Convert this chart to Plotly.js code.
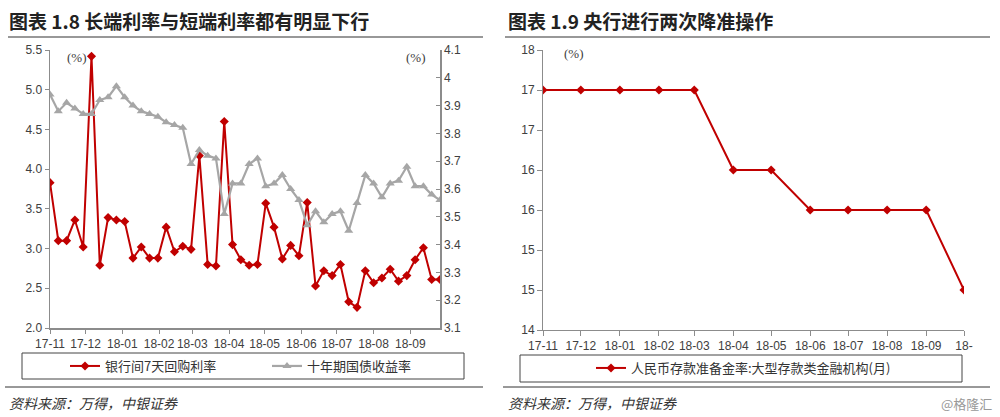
<!DOCTYPE html>
<html>
<head>
<meta charset="utf-8">
<script src="https://cdn.plot.ly/plotly-3.0.1.min.js"></script>
<style>html,body{margin:0;padding:0;background:#fff;}#chart{width:1000px;height:417px;}</style>
</head>
<body>
<div id="chart"></div>
<script>
// ---- Left chart data (weekly) ----
const weekDates = [
  "2017-11-01","2017-11-08","2017-11-15","2017-11-22","2017-11-29","2017-12-06","2017-12-13","2017-12-20",
  "2017-12-27","2018-01-03","2018-01-10","2018-01-17","2018-01-24","2018-01-31","2018-02-07","2018-02-14",
  "2018-02-21","2018-02-28","2018-03-07","2018-03-14","2018-03-21","2018-03-28","2018-04-04","2018-04-11",
  "2018-04-18","2018-04-25","2018-05-02","2018-05-09","2018-05-16","2018-05-23","2018-05-30","2018-06-06",
  "2018-06-13","2018-06-20","2018-06-27","2018-07-04","2018-07-11","2018-07-18","2018-07-25","2018-08-01",
  "2018-08-08","2018-08-15","2018-08-22","2018-08-29","2018-09-05","2018-09-12","2018-09-19","2018-09-26"
];
const repo7d = [
  3.83,3.10,3.10,3.36,3.02,5.42,2.79,3.39,
  3.36,3.34,2.88,3.02,2.88,2.88,3.27,2.96,
  3.03,2.99,4.17,2.80,2.78,4.60,3.05,2.86,
  2.79,2.80,3.57,3.27,2.87,3.04,2.91,3.58,
  2.53,2.72,2.66,2.80,2.33,2.26,2.72,2.57,
  2.63,2.74,2.59,2.66,2.86,3.01,2.61,2.61
];
const bond10y = [
  3.94,3.88,3.91,3.89,3.87,3.87,3.92,3.93,
  3.97,3.93,3.90,3.88,3.87,3.86,3.84,3.83,
  3.82,3.69,3.74,3.72,3.71,3.51,3.62,3.62,
  3.69,3.71,3.61,3.62,3.65,3.60,3.56,3.47,
  3.52,3.48,3.51,3.52,3.45,3.55,3.65,3.62,
  3.57,3.62,3.63,3.68,3.61,3.61,3.58,3.56
];
const leftTickVals = ["2017-11-01","2017-12-01","2018-01-01","2018-02-01","2018-03-01","2018-04-01","2018-05-01","2018-06-01","2018-07-01","2018-08-01","2018-09-01"];
const leftTickText = ["17-11","17-12","18-01","18-02","18-03","18-04","18-05","18-06","18-07","18-08","18-09"];

// ---- Right chart data (monthly) ----
const monthDates = ["2017-11-01","2017-12-01","2018-01-01","2018-02-01","2018-03-01","2018-04-01","2018-05-01","2018-06-01","2018-07-01","2018-08-01","2018-09-01","2018-10-01"];
const rrrLarge = [17,17,17,17,17,16,16,15.5,15.5,15.5,15.5,14.5];
const rightTickText = ["17-11","17-12","18-01","18-02","18-03","18-04","18-05","18-06","18-07","18-08","18-09","18-"];
const rightYTicks = [14,14.5,15,15.5,16,16.5,17,17.5];

const RED = "#C00000", GREY = "#A6A6A6";
const CJK = "'Noto Sans CJK SC', sans-serif";
const SANS = "'Liberation Sans', Arial, sans-serif";
const tickFont = {family: SANS, size: 12, color: "#404040"};

const H = 417, W = 1000;
const py = v => (H - v) / H; // pixel y -> paper
const px = v => v / W;

const traces = [
  {x: weekDates, y: repo7d, name: "银行间7天回购利率", type: "scatter", mode: "lines+markers",
   line: {color: RED, width: 2}, marker: {symbol: "diamond", size: 7, color: RED},
   xaxis: "x", yaxis: "y", legend: "legend"},
  {x: weekDates, y: bond10y, name: "十年期国债收益率", type: "scatter", mode: "lines+markers",
   line: {color: GREY, width: 2.2}, marker: {symbol: "triangle-up", size: 8, color: GREY},
   xaxis: "x", yaxis: "y2", legend: "legend"},
  {x: monthDates, y: rrrLarge, name: "人民币存款准备金率:大型存款类金融机构(月)", type: "scatter", mode: "lines+markers",
   line: {color: RED, width: 2}, marker: {symbol: "diamond", size: 7, color: RED},
   xaxis: "x3", yaxis: "y3", legend: "legend2"}
];

const layout = {
  width: W, height: H,
  margin: {l: 0, r: 0, t: 0, b: 0},
  paper_bgcolor: "#fff", plot_bgcolor: "rgba(0,0,0,0)",
  font: {family: SANS, color: "#404040"},
  xaxis: {domain: [px(50), px(440)], anchor: "y", type: "date",
          range: ["2017-11-01", "2018-09-26"], tickvals: leftTickVals, ticktext: leftTickText,
          showgrid: false, zeroline: false, showline: true, linecolor: "#8c8c8c", linewidth: 1.5,
          ticks: "outside", ticklen: 4, tickcolor: "#8c8c8c", tickfont: tickFont},
  yaxis: {domain: [py(328), py(50)], anchor: "x", range: [2, 5.5], dtick: 0.5, tick0: 2, tickformat: ".1f",
          showgrid: false, zeroline: false, showline: true, linecolor: "#8c8c8c", linewidth: 1.5,
          ticks: "outside", ticklen: 4, tickcolor: "#8c8c8c", tickfont: tickFont},
  yaxis2: {overlaying: "y", side: "right", anchor: "x", range: [3.1, 4.1], dtick: 0.1, tick0: 3.1,
          showgrid: false, zeroline: false, showline: true, linecolor: "#8c8c8c", linewidth: 1.5,
          ticks: "inside", ticklen: 4, tickcolor: "#8c8c8c", tickfont: tickFont},
  xaxis3: {domain: [px(543), px(964)], anchor: "y3", type: "date",
          range: ["2017-11-01", "2018-10-01"], tickvals: monthDates, ticktext: rightTickText,
          showgrid: false, zeroline: false, showline: true, linecolor: "#8c8c8c", linewidth: 1,
          ticks: "outside", ticklen: 5, tickcolor: "#8c8c8c", tickfont: tickFont},
  yaxis3: {domain: [py(330), py(50)], anchor: "x3", range: [14, 17.5],
          tickvals: rightYTicks, tickformat: ".0f",
          showgrid: false, zeroline: false, showline: true, linecolor: "#8c8c8c", linewidth: 1,
          ticks: "outside", ticklen: 5, tickcolor: "#8c8c8c", tickfont: tickFont},
  legend: {orientation: "h", x: px(65), y: py(366), xanchor: "left", yanchor: "middle",
           entrywidth: 157, entrywidthmode: "pixels", bgcolor: "rgba(0,0,0,0)", borderwidth: 0,
           font: {family: CJK, size: 13, color: "#333"}},
  legend2: {orientation: "h", x: px(591), y: py(368), xanchor: "left", yanchor: "middle",
           bgcolor: "rgba(0,0,0,0)", borderwidth: 0,
           font: {family: CJK, size: 13, color: "#333"}},
  shapes: [
    {type: "line", xref: "paper", yref: "paper", x0: px(8), x1: px(483), y0: py(37), y1: py(37), line: {color: "#333", width: 1.2}},
    {type: "line", xref: "paper", yref: "paper", x0: px(505), x1: px(990), y0: py(37), y1: py(37), line: {color: "#333", width: 1.2}},
    {type: "line", xref: "paper", yref: "paper", x0: px(5), x1: px(483), y0: py(387), y1: py(387), line: {color: "#333", width: 1}},
    {type: "line", xref: "paper", yref: "paper", x0: px(503), x1: px(990), y0: py(387), y1: py(387), line: {color: "#333", width: 1}},
    {type: "rect", xref: "paper", yref: "paper", x0: px(22), x1: px(464), y0: py(379), y1: py(353), line: {color: "#444", width: 1}},
    {type: "rect", xref: "paper", yref: "paper", x0: px(520), x1: px(962), y0: py(382), y1: py(355), line: {color: "#444", width: 1}}
  ],
  annotations: [
    {text: "<b>图表 1.8 长端利率与短端利率都有明显下行</b>", xref: "paper", yref: "paper", x: px(7), y: py(20),
     xanchor: "left", yanchor: "middle", showarrow: false, font: {family: CJK, size: 19, color: "#222"}},
    {text: "<b>图表 1.9 央行进行两次降准操作</b>", xref: "paper", yref: "paper", x: px(506), y: py(20),
     xanchor: "left", yanchor: "middle", showarrow: false, font: {family: CJK, size: 19, color: "#222"}},
    {text: "(%)", xref: "paper", yref: "paper", x: px(77), y: py(57), xanchor: "center", yanchor: "middle",
     showarrow: false, font: {family: "'Liberation Serif', serif", size: 13, color: "#404040"}},
    {text: "(%)", xref: "paper", yref: "paper", x: px(416), y: py(57), xanchor: "center", yanchor: "middle",
     showarrow: false, font: {family: "'Liberation Serif', serif", size: 13, color: "#404040"}},
    {text: "(%)", xref: "paper", yref: "paper", x: px(574), y: py(54), xanchor: "center", yanchor: "middle",
     showarrow: false, font: {family: "'Liberation Serif', serif", size: 13, color: "#404040"}},
    {text: "<i>资料来源：万得，中银证券</i>", xref: "paper", yref: "paper", x: px(7), y: py(403),
     xanchor: "left", yanchor: "middle", showarrow: false, font: {family: CJK, size: 14, color: "#333"}},
    {text: "<i>资料来源：万得，中银证券</i>", xref: "paper", yref: "paper", x: px(506), y: py(403),
     xanchor: "left", yanchor: "middle", showarrow: false, font: {family: CJK, size: 14, color: "#333"}},
    {text: "@格隆汇", xref: "paper", yref: "paper", x: px(994), y: py(403),
     xanchor: "right", yanchor: "middle", showarrow: false, font: {family: CJK, size: 13, color: "#999"}}
  ]
};

Plotly.newPlot("chart", traces, layout, {staticPlot: true, displayModeBar: false});
</script>
</body>
</html>
